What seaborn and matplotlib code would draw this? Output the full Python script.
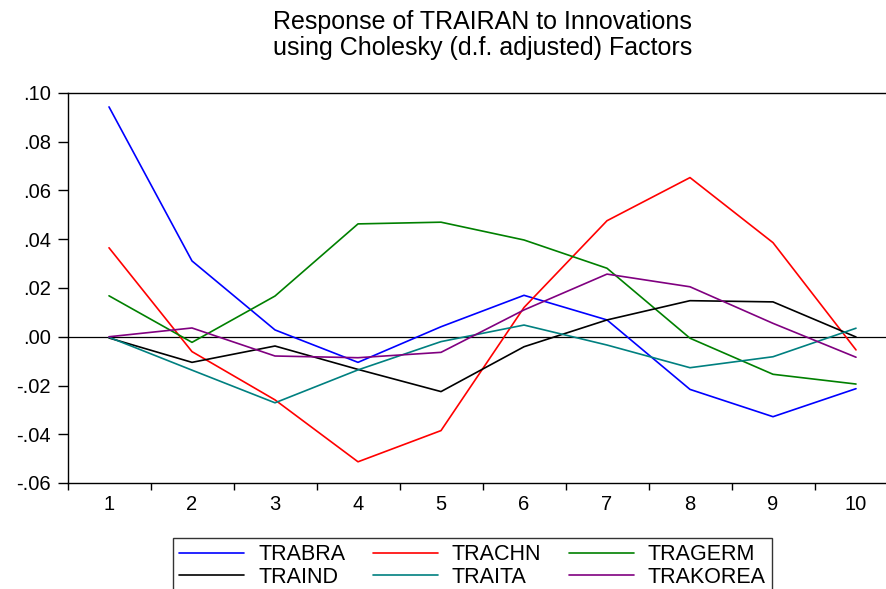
import matplotlib
matplotlib.use('Agg')
import matplotlib.pyplot as plt
import matplotlib.ticker as mticker
import pandas as pd
import seaborn as sns
import numpy as np

periods = [1, 2, 3, 4, 5, 6, 7, 8, 9, 10]
trabra = [0.0943, 0.0311, 0.0028, -0.0105, 0.0041, 0.0170, 0.0069, -0.0216, -0.0328, -0.0213]
trachn = [0.0365, -0.0061, -0.0259, -0.0513, -0.0385, 0.0120, 0.0476, 0.0653, 0.0386, -0.0054]
tragerm = [0.0168, -0.0023, 0.0167, 0.0463, 0.0470, 0.0397, 0.0281, -0.0006, -0.0154, -0.0194]
traind = [-0.0005, -0.0105, -0.0038, -0.0134, -0.0225, -0.0041, 0.0069, 0.0148, 0.0143, -0.0001]
traita = [-0.0002, -0.0137, -0.0271, -0.0136, -0.0020, 0.0048, -0.0034, -0.0127, -0.0082, 0.0035]
trakorea = [0.0000, 0.0036, -0.0079, -0.0086, -0.0064, 0.0110, 0.0257, 0.0205, 0.0055, -0.0084]

series_names = ['TRABRA', 'TRACHN', 'TRAGERM', 'TRAIND', 'TRAITA', 'TRAKOREA']
series_vals = [trabra, trachn, tragerm, traind, traita, trakorea]
colors = ['#0000ff', '#ff0000', '#008000', '#000000', '#008080', '#800080']

rows = []
for name, vals in zip(series_names, series_vals):
    for p, v in zip(periods, vals):
        rows.append({'period': p, 'value': v, 'series': name})
df = pd.DataFrame(rows)

sns.set_style('white')
plt.rcParams['font.family'] = ['Liberation Sans', 'DejaVu Sans']
plt.rcParams['text.color'] = 'black'

fig = plt.figure(figsize=(8.87, 5.89), dpi=100)
ax = fig.add_axes([67.5/887, 1-483/589, 830/887, 390/589])

sns.lineplot(data=df, x='period', y='value', hue='series', hue_order=series_names,
             palette=colors, linewidth=1.2, ax=ax, legend=False)
ax.axhline(0, color='black', linewidth=0.9, zorder=0)

ax.set_xlim(0.5, 10.5)
ax.set_ylim(-0.06, 0.10)
ax.set_xticks(periods)
ax.set_xticks(np.arange(0.5, 11, 1), minor=True)
ax.tick_params(axis='x', which='major', length=0, labelsize=14.5, pad=9, colors='black')
ax.tick_params(axis='x', which='minor', length=5, width=1, direction='out', bottom=True,
               colors='black')
ax.set_yticks(np.arange(-0.06, 0.101, 0.02))
ax.yaxis.set_major_formatter(mticker.FuncFormatter(
    lambda v, pos: ('-' if v < -1e-9 else '') + ('%.2f' % abs(v))[1:]))
ax.tick_params(axis='y', length=7, width=1, direction='out', left=True, pad=5,
               labelsize=14.5, colors='black')
ax.set_xlabel('')
ax.set_ylabel('')
for s in ['left', 'top', 'bottom']:
    ax.spines[s].set_color('black')
    ax.spines[s].set_linewidth(1)
ax.spines['right'].set_visible(False)

ax.set_title('Response of TRAIRAN to Innovations\nusing Cholesky (d.f. adjusted) Factors',
             fontsize=18, pad=27, linespacing=1.12, color='black')

handles = [plt.Line2D([], [], color=c, linewidth=1.2) for c in colors]
order = [0, 3, 1, 4, 2, 5]
leg = fig.legend([handles[i] for i in order], [series_names[i] for i in order],
                 ncol=3, loc='upper left', bbox_to_anchor=(173/887, 1-538/589),
                 frameon=True, fancybox=False, edgecolor='black', fontsize=15.5,
                 handlelength=3.0, handletextpad=0.65, columnspacing=1.3,
                 labelspacing=0.05, borderpad=0.3, borderaxespad=0,
                 labelcolor='black')
leg.get_frame().set_linewidth(1)

fig.savefig('out.png', dpi=100)
